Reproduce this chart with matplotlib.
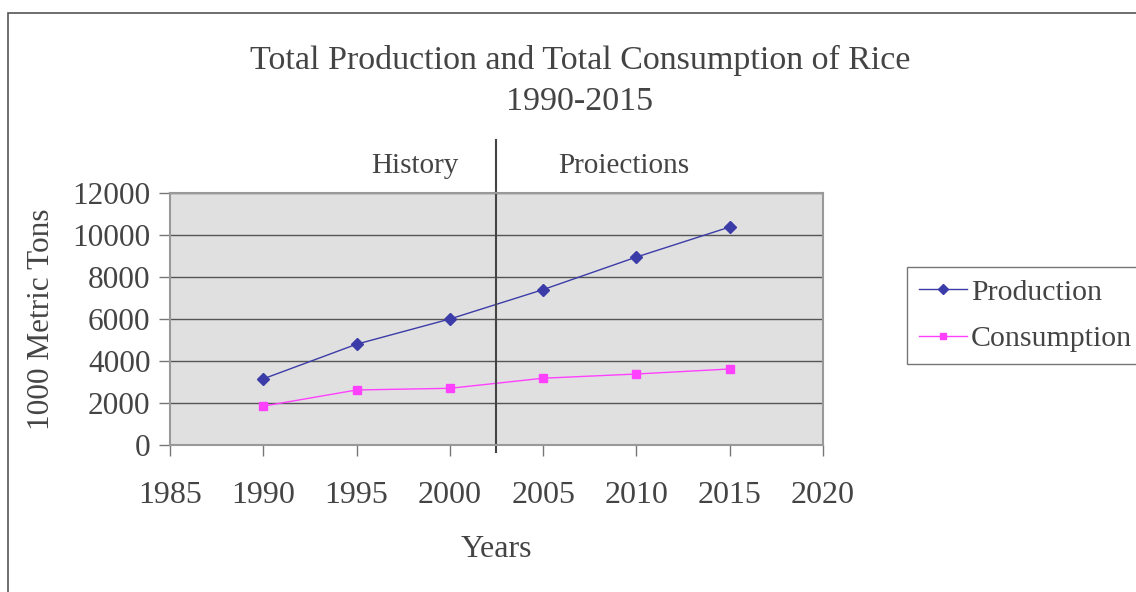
import matplotlib.pyplot as plt
from matplotlib.patches import Rectangle

years = [1990, 1995, 2000, 2005, 2010, 2015]
production = [3150, 4800, 6000, 7400, 8950, 10380]
consumption = [1850, 2620, 2700, 3180, 3380, 3620]
x_ticks = [1985, 1990, 1995, 2000, 2005, 2010, 2015, 2020]
y_ticks = [0, 2000, 4000, 6000, 8000, 10000, 12000]
split_year = 2002.5

plt.rcParams['font.family'] = ['Liberation Serif', 'DejaVu Serif']
txt = '#444444'

fig = plt.figure(figsize=(11.36, 5.92), dpi=100)
ax = fig.add_axes([170 / 1136, 147 / 592, 653 / 1136, 252 / 592])
ax.set_facecolor('#e0e0e0')

ax.plot(years, production, color='#3c3ca8', lw=1, marker='D', ms=6.5,
        label='Production')
ax.plot(years, consumption, color='#ff40ff', lw=1, marker='s', ms=6,
        label='Consumption')

ax.set_xlim(1985, 2020)
ax.set_ylim(0, 12000)
ax.set_xticks(x_ticks)
ax.set_yticks(y_ticks)
ax.yaxis.grid(True, color='#555555', lw=1)
ax.set_axisbelow(True)
ax.tick_params(labelsize=22.5, colors='#777777', labelcolor=txt,
               length=8, width=1, pad=6)
ax.tick_params(axis='x', labelsize=23, pad=18)
for s in ax.spines.values():
    s.set_color('#999999')
    s.set_linewidth(1.5)

# Trennlinie History / Projektion
ax.axvline(split_year, ymin=-0.028, ymax=1.21, color='#444444', lw=1.5,
           clip_on=False)
ax.text(1998.1, 13300, 'History', fontsize=21, color=txt, ha='center',
        va='center')
ax.text(2009.3, 13300, 'Proiections', fontsize=21, color=txt, ha='center',
        va='center')

ax.set_xlabel('Years', fontsize=23, color=txt, labelpad=18)
ax.set_ylabel('1000 Metric Tons', fontsize=22.5, color=txt, labelpad=12)

fig.text(580 / 1136, 1 - 60 / 592, 'Total Production and Total Consumption of Rice',
         fontsize=24.5, color=txt, ha='center', va='center')
fig.text(580 / 1136, 1 - 102 / 592, '1990-2015', fontsize=24.5, color=txt,
         ha='center', va='center')

leg = fig.legend(loc='upper left', bbox_to_anchor=(907 / 1136, 1 - 267 / 592),
                 fontsize=21.5, frameon=True, fancybox=False, borderpad=0.4,
                 handlelength=1.6, handletextpad=0.15, labelspacing=0.65,
                 borderaxespad=0, markerscale=0.8)
leg.get_frame().set_edgecolor('#555555')
leg.get_frame().set_linewidth(1)
for t in leg.get_texts():
    t.set_color(txt)

fig.patches.append(Rectangle((8 / 1136, -0.1), 1.2, 1.1 - 13 / 592,
                             transform=fig.transFigure, fill=False,
                             edgecolor='#555555', lw=1.2))

fig.savefig('out.png', dpi=100)
